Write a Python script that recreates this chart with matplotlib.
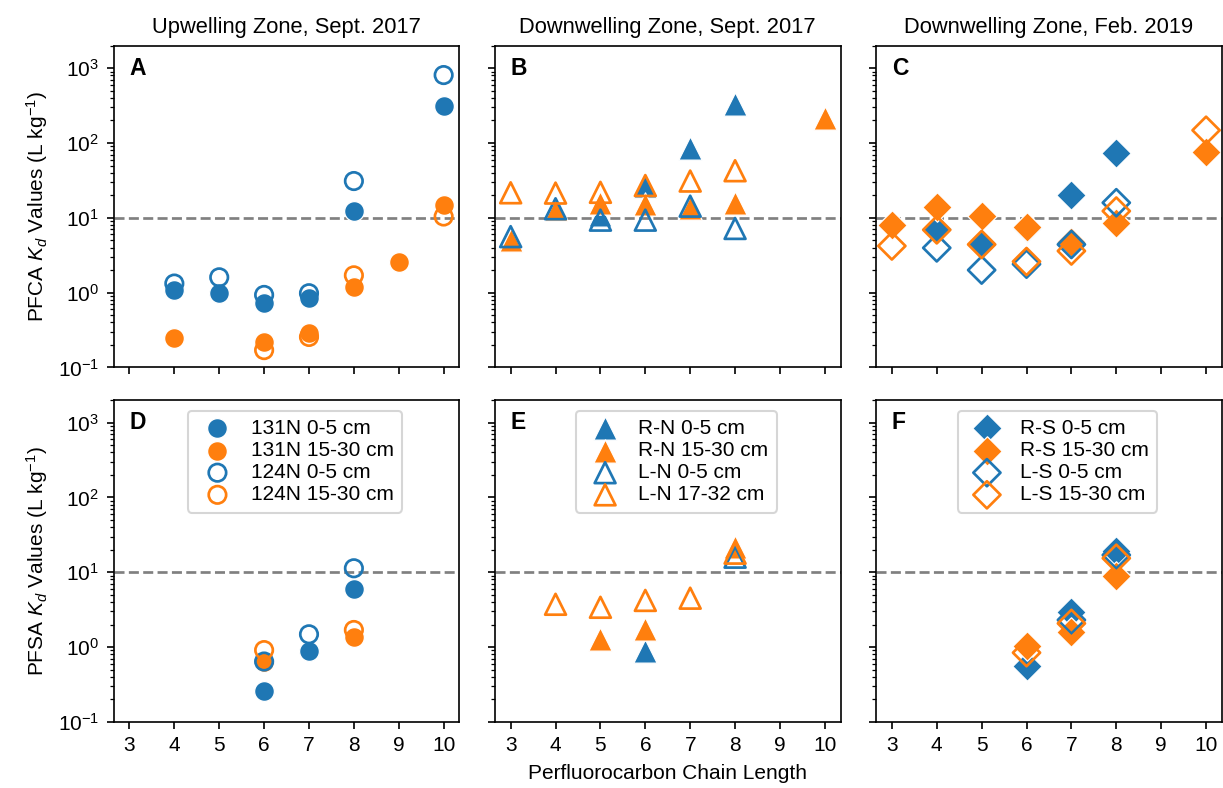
import numpy as np
import matplotlib
matplotlib.use("Agg")
import matplotlib.pyplot as plt

plt.rcParams['font.family'] = ['Liberation Sans', 'DejaVu Sans']
plt.rcParams['mathtext.fontset'] = 'custom'
plt.rcParams['mathtext.rm'] = 'Liberation Sans'
plt.rcParams['mathtext.it'] = 'Liberation Sans:italic'
plt.rcParams['mathtext.bf'] = 'Liberation Sans:bold'

nan = np.nan

# --------------------------------------------------------------------------
# data: Kd values (L/kg) vs perfluorocarbon chain length
# --------------------------------------------------------------------------
chain = [3, 4, 5, 6, 7, 8, 9, 10]

# A - PFCA, upwelling zone Sept 2017
a_131n_0_5   = [nan, 1.08, 1.0, 0.72, 0.85, 12.5, nan, 310]
a_131n_15_30 = [nan, 0.25, nan, 0.22, 0.29, 1.17, 2.6, 15]
a_124n_0_5   = [nan, 1.32, 1.6, 0.93, 0.98, 31, nan, 810]
a_124n_15_30 = [nan, nan, nan, 0.17, 0.255, 1.7, nan, 10.4]

# B - PFCA, downwelling zone Sept 2017
b_rn_0_5   = [nan, nan, 11, 26.5, 86, 330, nan, nan]
b_rn_15_30 = [5.1, 13.3, 15.6, 15.4, 13.6, 15.6, nan, 213]
b_ln_0_5   = [5.6, 13.2, 9.3, 9.3, 14.3, 7.2, nan, nan]
b_ln_17_32 = [21.6, 21.4, 21.9, 27, 31, 42.6, nan, nan]

# C - PFCA, downwelling zone Feb 2019
c_rs_0_5   = [nan, 7.0, 4.4, 7.4, 20, 73, nan, nan]
c_rs_15_30 = [7.9, 14, 10.5, 7.6, 4.8, 8.4, nan, 75]
c_ls_0_5   = [nan, 3.96, 2.0, 2.4, 4.4, 15.9, nan, nan]
c_ls_15_30 = [4.2, 6.9, 4.4, 2.6, 3.6, 12.3, nan, 148]

# D - PFSA, upwelling zone Sept 2017
d_131n_0_5   = [nan, nan, nan, 0.26, 0.88, 5.9, nan, nan]
d_131n_15_30 = [nan, nan, nan, 0.64, nan, 1.35, nan, nan]
d_124n_0_5   = [nan, nan, nan, 0.64, 1.48, 11.3, nan, nan]
d_124n_15_30 = [nan, nan, nan, 0.91, nan, 1.69, nan, nan]

# E - PFSA, downwelling zone Sept 2017
e_rn_0_5   = [nan, nan, nan, 0.88, nan, nan, nan, nan]
e_rn_15_30 = [nan, nan, 1.3, 1.76, nan, 22, nan, nan]
e_ln_0_5   = [nan, nan, nan, nan, nan, 15.9, nan, nan]
e_ln_17_32 = [nan, 3.73, 3.4, 4.2, 4.5, 18, nan, nan]

# F - PFSA, downwelling zone Feb 2019
f_rs_0_5   = [nan, nan, nan, 0.56, 2.97, 19.3, nan, nan]
f_rs_15_30 = [nan, nan, nan, 1.03, 1.6, 9.0, nan, nan]
f_ls_0_5   = [nan, nan, nan, nan, 2.3, 17, nan, nan]
f_ls_15_30 = [nan, nan, nan, 0.84, 2.07, 15.4, nan, nan]

titles = ["Upwelling Zone, Sept. 2017", "Downwelling Zone, Sept. 2017",
          "Downwelling Zone, Feb. 2019"]
letters = ["A", "B", "C", "D", "E", "F"]
labels_up = ["131N 0-5 cm", "131N 15-30 cm", "124N 0-5 cm", "124N 15-30 cm"]
labels_dn17 = ["R-N 0-5 cm", "R-N 15-30 cm", "L-N 0-5 cm", "L-N 17-32 cm"]
labels_dn19 = ["R-S 0-5 cm", "R-S 15-30 cm", "L-S 0-5 cm", "L-S 15-30 cm"]

BLUE = "#1f77b4"
ORANGE = "#ff7f0e"

# marker -> (filled size, open size)
SIZES = {"o": (90, 70), "^": (125, 100), "D": (100, 85)}

panels = [
    ([a_131n_0_5, a_131n_15_30, a_124n_0_5, a_124n_15_30], "o", labels_up),
    ([b_rn_0_5, b_rn_15_30, b_ln_0_5, b_ln_17_32], "^", labels_dn17),
    ([c_rs_0_5, c_rs_15_30, c_ls_0_5, c_ls_15_30], "D", labels_dn19),
    ([d_131n_0_5, d_131n_15_30, d_124n_0_5, d_124n_15_30], "o", labels_up),
    ([e_rn_0_5, e_rn_15_30, e_ln_0_5, e_ln_17_32], "^", labels_dn17),
    ([f_rs_0_5, f_rs_15_30, f_ls_0_5, f_ls_15_30], "D", labels_dn19),
]

fig, axes = plt.subplots(2, 3, figsize=(1223 / 150, 788 / 150), dpi=150,
                         sharex=True, sharey=True)
fig.subplots_adjust(left=0.093, right=0.999, bottom=0.084, top=0.942,
                    wspace=0.103, hspace=0.102)

styles = [(BLUE, True), (ORANGE, True), (BLUE, False), (ORANGE, False)]

for i, (ax, (series, marker, labels)) in enumerate(zip(axes.flat, panels)):
    s_fill, s_open = SIZES[marker]
    for vals, (col, filled), lab in zip(series, styles, labels):
        if filled:
            ax.scatter(chain, vals, s=s_fill, marker=marker, facecolor=col,
                       edgecolor="white", linewidth=0.6, label=lab)
        else:
            ax.scatter(chain, vals, s=s_open, marker=marker, facecolor="none",
                       edgecolor=col, linewidth=1.3, label=lab)
    ax.axhline(10, color="gray", linestyle="--", linewidth=1.3, zorder=0)
    ax.set_yscale("log")
    ax.text(0.045, 0.965, letters[i], transform=ax.transAxes, va="top",
            ha="left", fontweight="bold", fontsize=11)
    if i >= 3:
        ax.legend(loc="upper center", bbox_to_anchor=(0.525, 1.0),
                  labelspacing=0.15, borderaxespad=0.5, handletextpad=0.6)
    if i < 3:
        ax.set_title(titles[i], fontsize=10.5)

ax = axes[0, 0]
ax.set_ylim(0.1, 2000)
ax.set_xlim(2.65, 10.35)
ax.set_xticks(chain)

axes[0, 0].set_ylabel("PFCA $K_d$ Values (L kg$^{-1}$)")
axes[1, 0].set_ylabel("PFSA $K_d$ Values (L kg$^{-1}$)")
axes[1, 1].set_xlabel("Perfluorocarbon Chain Length")

plt.savefig("out.png", dpi=150)
